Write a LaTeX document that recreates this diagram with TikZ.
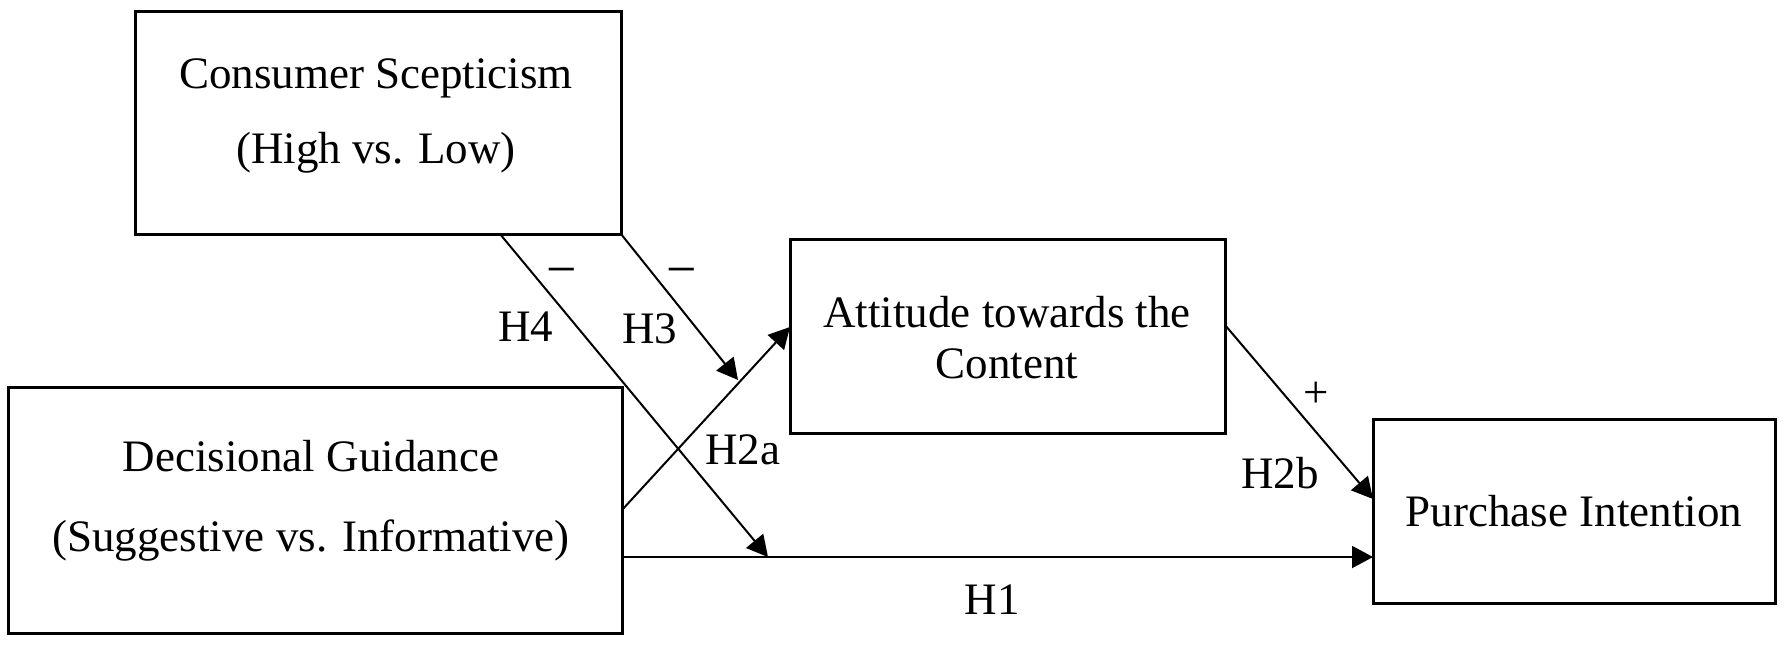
\documentclass[tikz,border=0pt]{standalone}
\usepackage{fontspec}
\setmainfont{Liberation Serif}
\usetikzlibrary{arrows.meta}
\begin{document}
\begin{tikzpicture}[x=0.5pt,y=-0.5pt,
  box/.style={draw, line width=1.5pt, inner sep=0pt, outer sep=0pt},
  txt/.style={anchor=base, inner sep=0pt, font=\fontsize{22.5pt}{27pt}\selectfont},
  sign/.style={anchor=base, inner sep=0pt, font=\fontsize{27pt}{30pt}\selectfont},
  arr/.style={line width=1pt, -{Triangle[length=10.5pt,width=11pt]}}]
\useasboundingbox (0,0) rectangle (1788,644);
% boxes
\node[box, minimum width=243pt, minimum height=111.5pt] (cs) at (378,122.5) {};
\node[box, minimum width=307pt, minimum height=123pt] (dg) at (315,510) {};
\node[box, minimum width=217.5pt, minimum height=97pt] (atc) at (1007.5,336) {};
\node[box, minimum width=201pt, minimum height=92pt] (pi) at (1574,511) {};
% box texts
\node[txt] (cs1) at (376,88) {Consumer Scepticism};
\node[txt] (cs2) at (376,163) {(High vs. Low)};
\node[txt] (dg1) at (311,471) {Decisional Guidance};
\node[txt] (dg2) at (311,551) {(Suggestive vs. Informative)};
\node[txt] (atc1) at (1007,327) {Attitude towards the};
\node[txt] (atc2) at (1007,378) {Content};
\node[txt] (pi1) at (1574,526) {Purchase Intention};
% free ends
\coordinate (h4end) at (768,557);
\coordinate (h3end) at (738,380);
% connectors
\draw[arr] ([xshift=61pt]cs.south) -- (h4end);
\draw[arr] (cs.south east) -- (h3end);
\draw[arr] (dg.east) -- ([yshift=4.5pt]atc.west);
\draw[arr] ([yshift=5.5pt]atc.east) -- ([yshift=6pt]pi.west);
\draw[arr] ([yshift=-23.5pt]dg.east) -- ([yshift=-23pt]pi.west);
% labels
\node[sign] (m4) at (562,287) {−};
\node[sign] (m3) at (682,287) {−};
\node[txt] (lh4) at (526,341) {H4};
\node[txt] (lh3) at (650,343) {H3};
\node[txt] (lh2a) at (742.5,464) {H2a};
\node[txt] (plus) at (1316,407) {+};
\node[txt] (lh2b) at (1280,488) {H2b};
\node[txt] (lh1) at (992,614) {H1};
\end{tikzpicture}
\end{document}
